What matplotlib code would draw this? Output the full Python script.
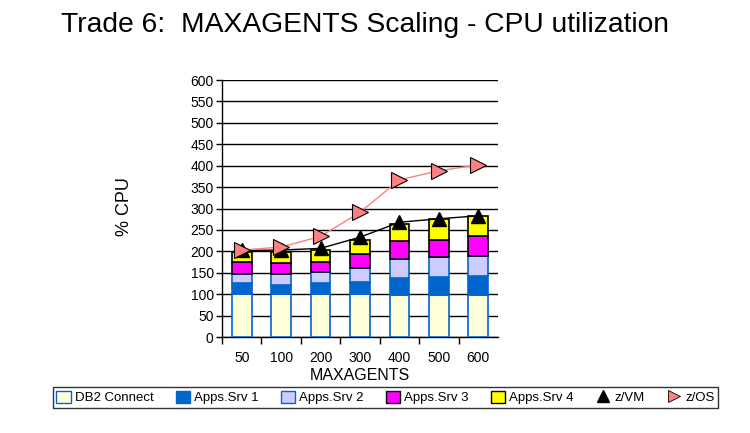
import numpy as np
import matplotlib
matplotlib.use("Agg")
import matplotlib.pyplot as plt
from matplotlib.lines import Line2D
from matplotlib.patches import Patch

plt.rcParams['font.family'] = ['Liberation Sans', 'DejaVu Sans']

# data
maxagents = ["50", "100", "200", "300", "400", "500", "600"]
db2_connect = [100, 100, 100, 100, 97, 97, 97]
apps_srv1 = [25, 22, 25, 28, 40, 43, 45]
apps_srv2 = [23, 26, 26, 32, 44, 46, 47]
apps_srv3 = [28, 25, 25, 33, 42, 40, 46]
apps_srv4 = [22, 26, 26, 34, 40, 49, 47]
zvm = [202, 203, 207, 233, 268, 276, 283]
zos = [203, 210, 235, 291, 367, 388, 402]

series = [
    ("DB2 Connect", db2_connect, "#FFFFD8", "#0066CC"),
    ("Apps.Srv 1", apps_srv1, "#0066CC", "#0066CC"),
    ("Apps.Srv 2", apps_srv2, "#CCCCFF", "#0066CC"),
    ("Apps.Srv 3", apps_srv3, "#FF00FF", "black"),
    ("Apps.Srv 4", apps_srv4, "#FFFF00", "black"),
]

fig = plt.figure(figsize=(7.5, 4.33), dpi=100)
ax = fig.add_axes([0.296, 0.2217, 0.368, 0.5935])

x = np.arange(len(maxagents))
bottom = np.zeros(len(maxagents))
handles = []
for name, vals, fc, ec in series:
    ax.bar(x, vals, width=0.5, bottom=bottom, color=fc, edgecolor=ec,
           linewidth=1.2, zorder=3)
    bottom += np.array(vals)
    handles.append(Patch(facecolor=fc, edgecolor=ec, linewidth=1, label=name))

ax.plot(x, zvm, color="black", linewidth=1, marker="^", markersize=9.5,
        markerfacecolor="black", markeredgecolor="black", zorder=4)
ax.plot(x, zos, color="#FF8080", linewidth=1, marker=">", markersize=11,
        markerfacecolor="#FF8080", markeredgecolor="black",
        markeredgewidth=0.8, zorder=5)
handles.append(Line2D([], [], linestyle="none", marker="^", color="black",
                      markersize=8, label="z/VM"))
handles.append(Line2D([], [], linestyle="none", marker=">", markersize=9,
                      markerfacecolor="#FF8080", markeredgecolor="black",
                      markeredgewidth=0.6, label="z/OS"))

ax.set_xlim(-0.5, len(maxagents) - 0.5)
ax.set_ylim(0, 600)
ax.set_yticks(np.arange(0, 601, 50))
ax.yaxis.grid(True, color="black", linewidth=1)
ax.set_axisbelow(True)

# category labels centred, tick marks between categories
ax.set_xticks(x)
ax.set_xticklabels(maxagents)
ax.tick_params(axis="x", length=0, pad=10, labelsize=10)
ax.set_xticks(np.arange(len(maxagents)) - 0.5, minor=True)
ax.tick_params(axis="x", which="minor", length=5, width=1, direction="out")
ax.tick_params(axis="y", length=4, width=1, labelsize=10, pad=2)

for side in ["top", "right"]:
    ax.spines[side].set_visible(False)
ax.spines["left"].set_linewidth(1)
ax.spines["bottom"].set_linewidth(1)

ax.set_xlabel("MAXAGENTS", fontsize=11.5, labelpad=2)
fig.text(0.166, 0.522, "% CPU", fontsize=13, rotation=90,
         ha="center", va="center")

fig.text(0.487, 0.942, "Trade 6:  MAXAGENTS Scaling - CPU utilization",
         fontsize=20.3, ha="center", va="center")

leg = fig.legend(handles=handles, loc="center", ncol=7,
                 bbox_to_anchor=(0.514, 0.082), fontsize=9.5, frameon=True,
                 fancybox=False, edgecolor="black", handlelength=1.1,
                 handleheight=1.1, handletextpad=0.3, columnspacing=1.67,
                 borderpad=0.3)
leg.get_frame().set_linewidth(1)

fig.savefig("out.png", dpi=100)
